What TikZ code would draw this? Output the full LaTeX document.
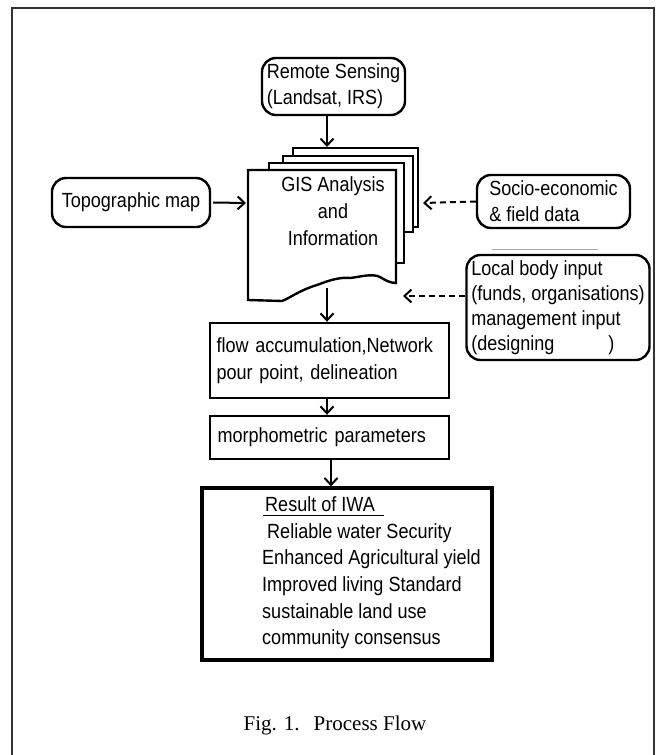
\documentclass[tikz,border=0pt]{standalone}
\usepackage{fontspec}
\setmainfont[FakeStretch=0.88]{Liberation Sans}
\newfontfamily\capfont{Liberation Serif}
\usetikzlibrary{arrows.meta}
\newcommand\myfs{\fontsize{20.5}{26}\selectfont}
\begin{document}
\begin{tikzpicture}[x=1pt,y=-1pt,
  lw/.style={line width=2.4pt},
  rbox/.style={draw,line width=2.4pt,rounded corners=14pt,inner sep=0pt,font=\myfs,align=left},
  sbox/.style={draw,line width=2.4pt,inner sep=0pt,font=\myfs,align=left},
  txt/.style={inner sep=0pt,font=\myfs,anchor=base west},
  arr/.style={line width=2pt,-{Straight Barb[length=7pt,width=13pt,line width=2pt]}},
  darr/.style={arr,dash pattern=on 6pt off 4pt}]
\useasboundingbox (0,0) rectangle (660,755);
% outer frame
\draw[line width=1.2pt,black!80] (12,755) -- (12,8) -- (654,8) -- (654,755);

% GIS stack of pages
\draw[lw,fill=white] (293,148) rectangle (418,227);
\draw[lw,fill=white] (283,156) rectangle (413,232);
\draw[lw,fill=white] (269,163) rectangle (404,263);
\draw[lw,fill=white] (248,170) -- (396,170) -- (396,283)
  .. controls (390,283) and (385,280) .. (380,277)
  .. controls (372,273) and (360,277) .. (350,278)
  .. controls (340,277) and (330,280) .. (317,285)
  .. controls (300,290) and (290,298) .. (282,301)
  -- (248,300) -- cycle;
\node[inner sep=0pt,font=\fontsize{20.5}{27}\selectfont,align=center] (gis) at (333,211) {GIS Analysis\\and\\Information};
\coordinate (gistop) at (327,147);
\coordinate (gisL) at (246,203);
\coordinate (gisR) at (423,203);
\coordinate (gisBR) at (403,296);
\coordinate (gisbot) at (327,288);
\coordinate (colx) at (327,0);
\coordinate (colxb) at (331,0);

% boxes
\node[rbox,minimum width=143pt,minimum height=57pt] (rs) at (333.5,86.5) {Remote Sensing\\(Landsat, IRS)};
\node[rbox,minimum width=158pt,minimum height=49pt,align=center] (topo) at (131,202.5) {Topographic map};
\node[rbox,minimum width=153pt,minimum height=53pt] (soc) at (553.5,201.5) {Socio-economic\\\& field data};
\draw[gray!70,line width=0.8pt] (492,249) -- (598,249);
\node[rbox,minimum width=183pt,minimum height=105pt,font=\fontsize{20.5}{25}\selectfont] (loc) at (558,307.5) {Local body input\\(funds, organisations)\\management input\\(designing\hspace{54pt})};
\node[sbox,minimum width=239pt,minimum height=75pt,text width=226pt,font=\fontsize{20.5}{27}\selectfont] (flow) at (329.5,360.5) {flow accumulation,Network\\pour point, delineation};
\node[sbox,minimum width=239pt,minimum height=43pt,text width=224pt] (morph) at (329.5,437.5) {morphometric parameters};
\node[draw,line width=3.2pt,minimum width=290pt,minimum height=172pt,inner sep=0pt] (res) at (347,574) {};

% result texts
\node[txt] (r0) at (265,511.5) {Result of IWA};
\draw[line width=1pt] (263,515) -- (384,515);
\node[txt] (r1) at (267,538.5) {Reliable water Security};
\node[txt] (r2) at (262,564.5) {Enhanced Agricultural yield};
\node[txt] (r3) at (262,591.5) {Improved living Standard};
\node[txt] (r4) at (262,618.5) {sustainable land use};
\node[txt] (r5) at (262,644.5) {community consensus};

% connectors
\draw[arr] (rs.south -| gistop) -- (gistop);
\draw[arr] (topo.east) ++(2,0) -- (gisL);
\draw[darr] (soc.west) -- (gisR);
\draw[darr] (loc.west |- gisBR) -- (gisBR);
\draw[arr] (gisbot) -- (gisbot |- flow.north);
\draw[arr] (flow.south -| colx) -- (morph.north -| colx);
\draw[arr] (morph.south -| colxb) -- (res.north -| colxb);

% caption
\node[inner sep=0pt,font=\capfont\fontsize{21}{24}\selectfont] (cap) at (335,725) {Fig. 1.\hspace{14pt}Process Flow};
\end{tikzpicture}
\end{document}
